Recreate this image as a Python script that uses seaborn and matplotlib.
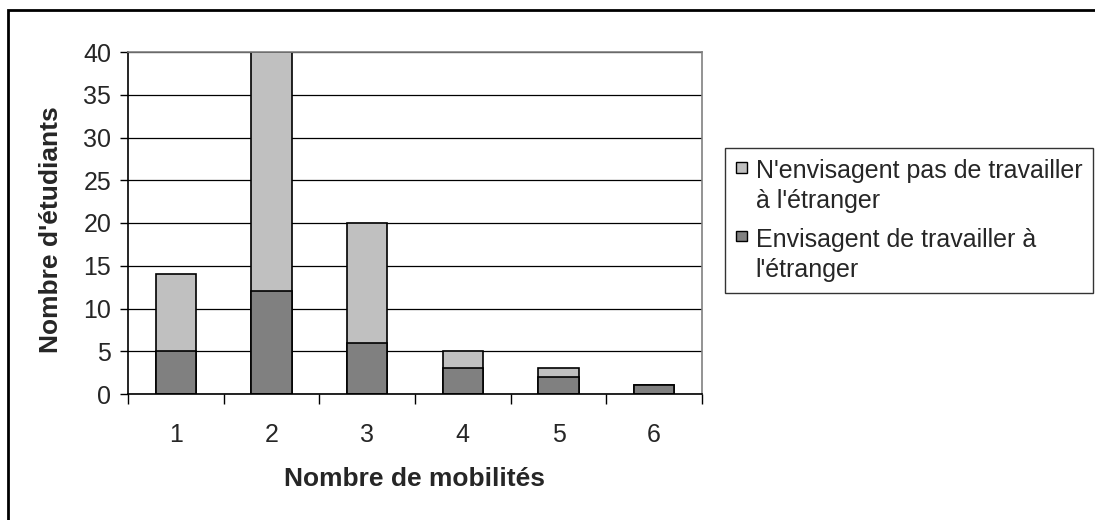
import matplotlib
matplotlib.use("Agg")
import matplotlib.pyplot as plt
import matplotlib.patches as mpatches
from matplotlib.legend_handler import HandlerPatch
import seaborn as sns
import pandas as pd

# Data
categories = ["1", "2", "3", "4", "5", "6"]
envisagent = [5, 12, 6, 3, 2, 1]
n_envisagent_pas = [9, 28, 14, 2, 1, 0]
legend_labels = ["N'envisagent pas de travailler\nà l'étranger",
                 "Envisagent de travailler à\nl'étranger"]

light = "#c0c0c0"
dark = "#808080"

df = pd.DataFrame({
    "mobilites": categories,
    "envisagent": envisagent,
    "total": [a + b for a, b in zip(envisagent, n_envisagent_pas)],
})


class FirstLineHandler(HandlerPatch):
    # small square aligned with the first line of a two-line label
    def create_artists(self, legend, orig_handle, xdescent, ydescent,
                       width, height, fontsize, trans):
        size = 0.42 * fontsize
        y = -ydescent + height / 2 - size / 2 + 0.78 * fontsize
        p = mpatches.Rectangle((-xdescent, y), size, size,
                               facecolor=orig_handle.get_facecolor(),
                               edgecolor="black", linewidth=1, transform=trans)
        return [p]


sns.set_style("white")
plt.rcParams["font.family"] = ["Liberation Sans", "DejaVu Sans"]

fig = plt.figure(figsize=(10.95, 5.2), dpi=100)
ax = fig.add_axes([128 / 1095, 1 - 394 / 520, 574 / 1095, 342 / 520])

# stacked: total in light gray, bottom part in dark gray on top of it
sns.barplot(data=df, x="mobilites", y="total", color=light, width=0.42,
            edgecolor="black", linewidth=1.2, saturation=1, ax=ax)
sns.barplot(data=df, x="mobilites", y="envisagent", color=dark, width=0.42,
            edgecolor="black", linewidth=1.2, saturation=1, ax=ax)

ax.set_xlim(-0.5, len(categories) - 0.5)
ax.set_ylim(0, 40)
ax.set_yticks(range(0, 41, 5))
ax.yaxis.grid(True, color="black", linewidth=0.9)
ax.set_axisbelow(True)

ax.set_xticks(range(len(categories)))
ax.set_xticklabels(categories)
ax.set_xticks([i - 0.5 for i in range(len(categories) + 1)], minor=True)
ax.tick_params(axis="x", which="major", length=0, pad=21, labelsize=18)
ax.tick_params(axis="x", which="minor", length=7, width=1, direction="out",
               color="black", bottom=True)
ax.tick_params(axis="y", length=6, width=1, direction="out", color="black",
               left=True, labelsize=18, pad=6)

for side in ["left", "bottom"]:
    ax.spines[side].set_color("black")
    ax.spines[side].set_linewidth(1.2)
for side in ["right", "top"]:
    ax.spines[side].set_color("#808080")
    ax.spines[side].set_linewidth(1.2)

ax.set_xlabel("Nombre de mobilités", fontsize=19, fontweight="bold", va="center")
ax.xaxis.set_label_coords(0.5, -0.25)
ax.set_ylabel("Nombre d'étudiants", fontsize=19, fontweight="bold", va="center")
ax.yaxis.set_label_coords(-0.134, 0.48)

handles = [mpatches.Patch(facecolor=light, edgecolor="black"),
           mpatches.Patch(facecolor=dark, edgecolor="black")]
leg = fig.legend(handles, legend_labels, loc="upper left",
                 bbox_to_anchor=(725 / 1095, 1 - 148 / 520),
                 fontsize=18, frameon=True, fancybox=False, shadow=False,
                 handler_map={mpatches.Patch: FirstLineHandler()},
                 handlelength=0.42, handleheight=0.7, handletextpad=0.35,
                 borderpad=0.45, labelspacing=0.6, borderaxespad=0)
leg.get_frame().set_edgecolor("black")
leg.get_frame().set_linewidth(1)
for t in leg.get_texts():
    t.set_linespacing(1.3)

# outer border of the chart area
fig.patches.append(mpatches.Rectangle((8 / 1095, -0.05), 1.1, 1 - 10 / 520 + 0.05,
                                      transform=fig.transFigure, fill=False,
                                      edgecolor="black", linewidth=2))

fig.savefig("out.png", dpi=100)
plt.close(fig)
